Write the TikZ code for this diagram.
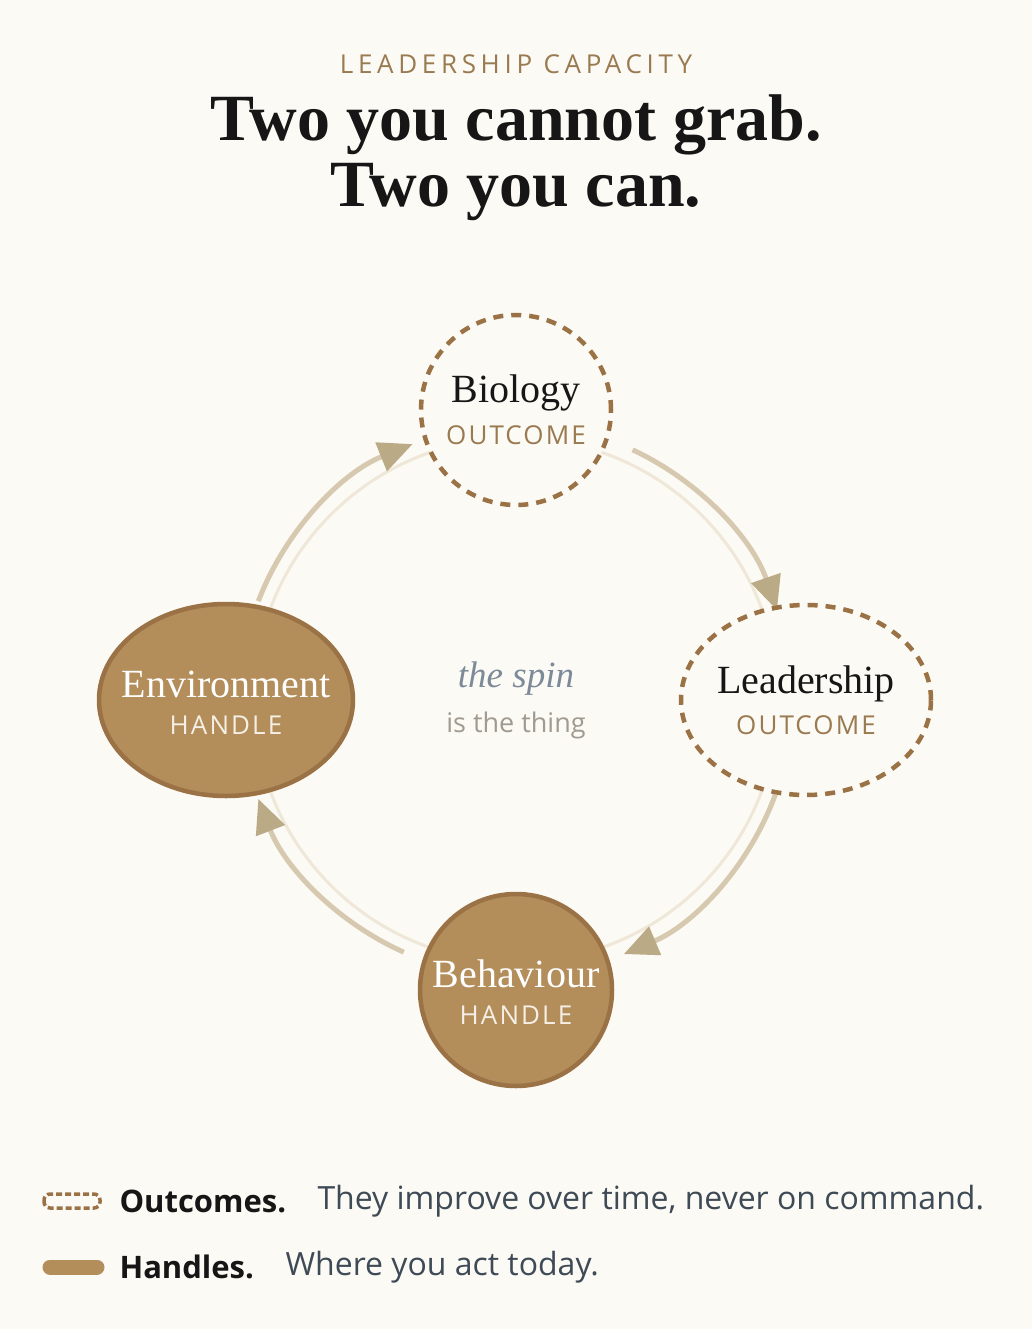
\documentclass[tikz,border=0pt]{standalone}
\usepackage{fontspec}
\setmainfont{Liberation Serif}
\setsansfont{Open Sans}
\usetikzlibrary{arrows.meta,shapes.geometric}
\definecolor{bg}{HTML}{FCFAF5}
\definecolor{tan}{HTML}{9A7A50}
\definecolor{brn}{HTML}{9A7245}
\definecolor{fillh}{HTML}{B38D5A}
\definecolor{arc}{HTML}{D6C9AF}
\definecolor{arcin}{HTML}{EFE7D8}
\definecolor{head}{HTML}{BBAA86}
\definecolor{ink}{HTML}{161616}
\definecolor{gray1}{HTML}{3E4A55}
\begin{document}
\begin{tikzpicture}[x=1pt,y=-1pt,
  outc/.style={draw=brn,line width=4.5pt,dash pattern=on 10pt off 8pt,fill=bg,ellipse,inner sep=0pt},
  hand/.style={draw=brn,line width=4.5pt,fill=fillh,ellipse,inner sep=0pt},
  big/.style={font=\fontsize{40}{42}\selectfont},
  lab/.style={font=\sffamily\fontsize{26}{28}\selectfont\addfontfeature{LetterSpace=8},color=tan},
  arr/.style={draw=arc,line width=5pt,-{Triangle[length=34pt,width=30pt,fill=head,color=head]}},
  inarc/.style={draw=arcin,line width=3pt}]
\fill[bg] (0,0) rectangle (1032,1329);
\useasboundingbox (0,0) rectangle (1032,1329);
\node (kicker) at (516,64) {\sffamily\fontsize{26}{28}\selectfont\color{tan}\addfontfeature{LetterSpace=18}LEADERSHIP CAPACITY};
\node[align=center,font=\bfseries\fontsize{66}{66}\selectfont,color=ink] (title) at (516,158) {Two you cannot grab.\\Two you can.};
\coordinate (c) at (516,700);
\draw[inarc] (c) ++(90:262) arc[start angle=90,end angle=0,radius=262];
\draw[inarc] (c) ++(90:262) arc[start angle=90,end angle=180,radius=262];
\draw[inarc] (c) ++(270:262) arc[start angle=270,end angle=360,radius=262];
\draw[inarc] (c) ++(270:262) arc[start angle=270,end angle=180,radius=262];
\draw[arr] (c) ++(-159:276) arc[start angle=-159,end angle=-112,radius=276];
\draw[arr] (c) ++(-65:276) arc[start angle=-65,end angle=-19,radius=276];
\draw[arr] (c) ++(20:276) arc[start angle=20,end angle=67,radius=276];
\draw[arr] (c) ++(114:276) arc[start angle=114,end angle=159,radius=276];
\node[outc,minimum width=190,minimum height=190] (bio) at (516,410) {};
\node[outc,minimum width=250,minimum height=190] (lead) at (806,700) {};
\node[hand,minimum width=192,minimum height=192] (beh) at (516,990) {};
\node[hand,minimum width=254,minimum height=192] (env) at (226,700) {};
\node[big,color=ink] (biot) at (516,393) {Biology};
\node[lab] (biol) at (516,435) {OUTCOME};
\node[big,color=ink] (leadt) at (806,684) {Leadership};
\node[lab] (leadl) at (806,725) {OUTCOME};
\node[big,color=white] (beht) at (516,974) {Behaviour};
\node[lab,color=bg!90!fillh] (behl) at (516,1015) {HANDLE};
\node[big,color=white] (envt) at (226,684) {Environment};
\node[lab,color=bg!90!fillh] (envl) at (226,725) {HANDLE};
\node[font=\itshape\fontsize{37}{38}\selectfont,color={rgb,255:red,124;green,138;blue,153}] (spin) at (516,679) {the spin};
\node[font=\sffamily\fontsize{27}{28}\selectfont,color={rgb,255:red,160;green,154;blue,144}] (thing) at (516,725) {is the thing};
\draw[brn,line width=3.5pt,dash pattern=on 6pt off 3pt,rounded corners=6pt] (44,1194) rectangle (100,1208);
\node[anchor=west,font=\sffamily\bfseries\fontsize{31}{33}\selectfont,color=ink] (o1) at (116,1201) {Outcomes.};
\node[anchor=west,font=\sffamily\fontsize{32}{33}\selectfont,color=gray1] (o2) at (314,1201) {They improve over time, never on command.};
\draw[fillh,line width=15pt,line cap=round] (50,1267) -- (97,1267);
\node[anchor=west,font=\sffamily\bfseries\fontsize{31}{33}\selectfont,color=ink] (h1) at (116,1267) {Handles.};
\node[anchor=west,font=\sffamily\fontsize{32}{33}\selectfont,color=gray1] (h2) at (282,1267) {Where you act today.};
\end{tikzpicture}
\end{document}
